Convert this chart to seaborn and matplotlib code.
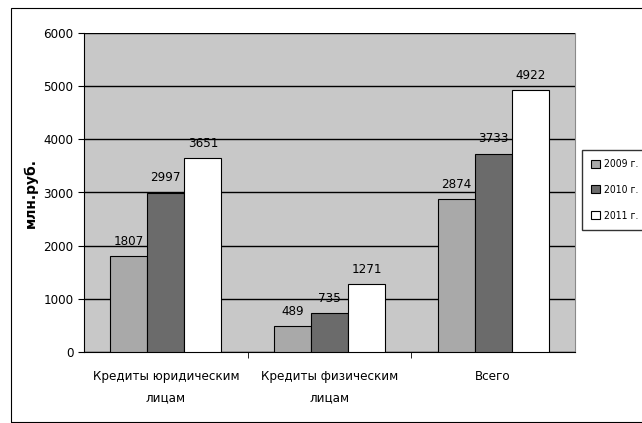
import matplotlib
matplotlib.use("Agg")
import matplotlib.pyplot as plt
import seaborn as sns
import pandas as pd
from matplotlib.patches import Rectangle
from matplotlib import font_manager

categories = ["Кредиты юридическим\nлицам", "Кредиты физическим\nлицам", "Всего"]
years = ["2009 г.", "2010 г.", "2011 г."]
values_2009 = [1807, 489, 2874]
values_2010 = [2997, 735, 3733]
values_2011 = [3651, 1271, 4922]
palette = ["#a9a9a9", "#6b6b6b", "#ffffff"]

df = pd.DataFrame({
    "category": categories * 3,
    "year": [years[0]] * 3 + [years[1]] * 3 + [years[2]] * 3,
    "value": values_2009 + values_2010 + values_2011,
})

sns.set_style("white")
# narrow font like Arial Narrow, if there is one
font_names = {f.name for f in font_manager.fontManager.ttflist}
if "Liberation Sans Narrow" in font_names:
    plt.rcParams["font.family"] = ["Liberation Sans Narrow", "DejaVu Sans"]
else:
    plt.rcParams["font.family"] = ["DejaVu Sans"]
    plt.rcParams["font.stretch"] = "condensed"
plt.rcParams["text.color"] = "black"
plt.rcParams["xtick.color"] = "black"
plt.rcParams["ytick.color"] = "black"
plt.rcParams["axes.labelcolor"] = "black"

fig = plt.figure(figsize=(6.42, 4.23), dpi=100)
ax = fig.add_axes([84 / 642, 71 / 423, 491 / 642, 319 / 423])
ax.set_facecolor("#c8c8c8")

sns.barplot(data=df, x="category", y="value", hue="year", palette=palette,
            width=0.68, edgecolor="black", linewidth=0.8, ax=ax, zorder=3,
            legend=False)

for cont in ax.containers:
    ax.bar_label(cont, fmt="%d", padding=6, fontsize=9.5, color="black")

ax.set_ylim(0, 6000)
ax.set_yticks(range(0, 6001, 1000))
ax.yaxis.grid(True, color="black", linewidth=1.0, zorder=0)
ax.set_axisbelow(True)
ax.spines["top"].set_visible(False)
ax.spines["right"].set_color("#8a8a8a")
ax.spines["left"].set_color("black")
ax.spines["bottom"].set_color("black")
ax.tick_params(axis="y", length=4, direction="out", labelsize=9.5, left=True)
ax.tick_params(axis="x", length=0, labelsize=9.5, pad=13)
for lbl in ax.get_xticklabels():
    lbl.set_linespacing(1.8)
ax.set_xticks([0.5, 1.5], minor=True)
ax.tick_params(axis="x", which="minor", length=4, direction="out", bottom=True)
ax.set_xlabel("")
ax.set_ylabel("млн.руб.", fontsize=10, fontweight="bold", fontstretch="normal",
              labelpad=4)

handles = [Rectangle((0, 0), 1, 1, facecolor=c, edgecolor="black", linewidth=0.8)
           for c in palette]
leg = fig.legend(handles, years, loc="upper left",
                 bbox_to_anchor=(582 / 642, 1 - 150 / 423),
                 frameon=True, fancybox=False, edgecolor="black", fontsize=7.5,
                 handlelength=0.8, handleheight=0.8, handletextpad=0.4,
                 borderpad=0.9, labelspacing=1.5, borderaxespad=0)

fig.patches.append(Rectangle((11 / 642, 1 / 423), 1.2, 1 - 8 / 423 - 1 / 423,
                             transform=fig.transFigure, fill=False,
                             edgecolor="black", linewidth=0.8))

fig.savefig("out.png", dpi=100)
